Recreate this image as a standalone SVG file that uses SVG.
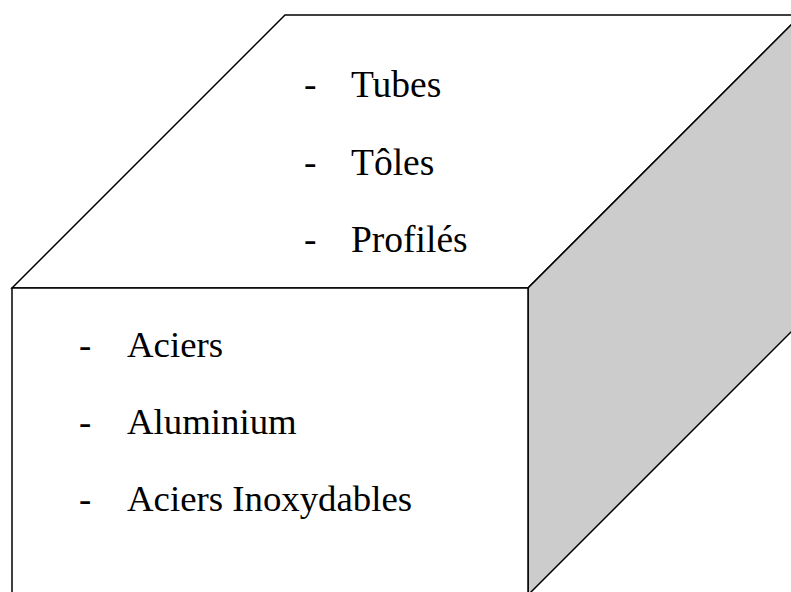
<svg xmlns="http://www.w3.org/2000/svg" width="791" height="592" viewBox="0 0 791 592">
<style>
.face{stroke:#000;stroke-width:1.5;stroke-linejoin:miter}
.t{font-family:"Liberation Serif","Times New Roman",serif;font-size:37.5px;fill:#000}
.b{font-size:36.8px}
</style>
<rect width="791" height="592" fill="#fff"/>
<g id="top-face">
<polygon class="face" fill="#fff" points="12,288 285,15 801,15 528,288"/>
<text class="t" x="304" y="97">-</text><text class="t" x="351" y="97">Tubes</text>
<text class="t" x="304" y="175">-</text><text class="t" x="351" y="175">Tôles</text>
<text class="t" x="304" y="251.5">-</text><text class="t" x="351" y="251.5">Profilés</text>
</g>
<g id="right-face">
<polygon class="face" fill="#cccccc" points="528,288 801,15 801,322 528,595"/>
</g>
<g id="front-face">
<rect class="face" fill="#fff" x="12" y="288" width="516" height="307"/>
<text class="t b" x="79" y="356.5">-</text><text class="t b" x="127" y="356.5">Aciers</text>
<text class="t b" x="79" y="434">-</text><text class="t b" x="127" y="434">Aluminium</text>
<text class="t b" x="79" y="511">-</text><text class="t b" x="127" y="511">Aciers Inoxydables</text>
</g>
</svg>
